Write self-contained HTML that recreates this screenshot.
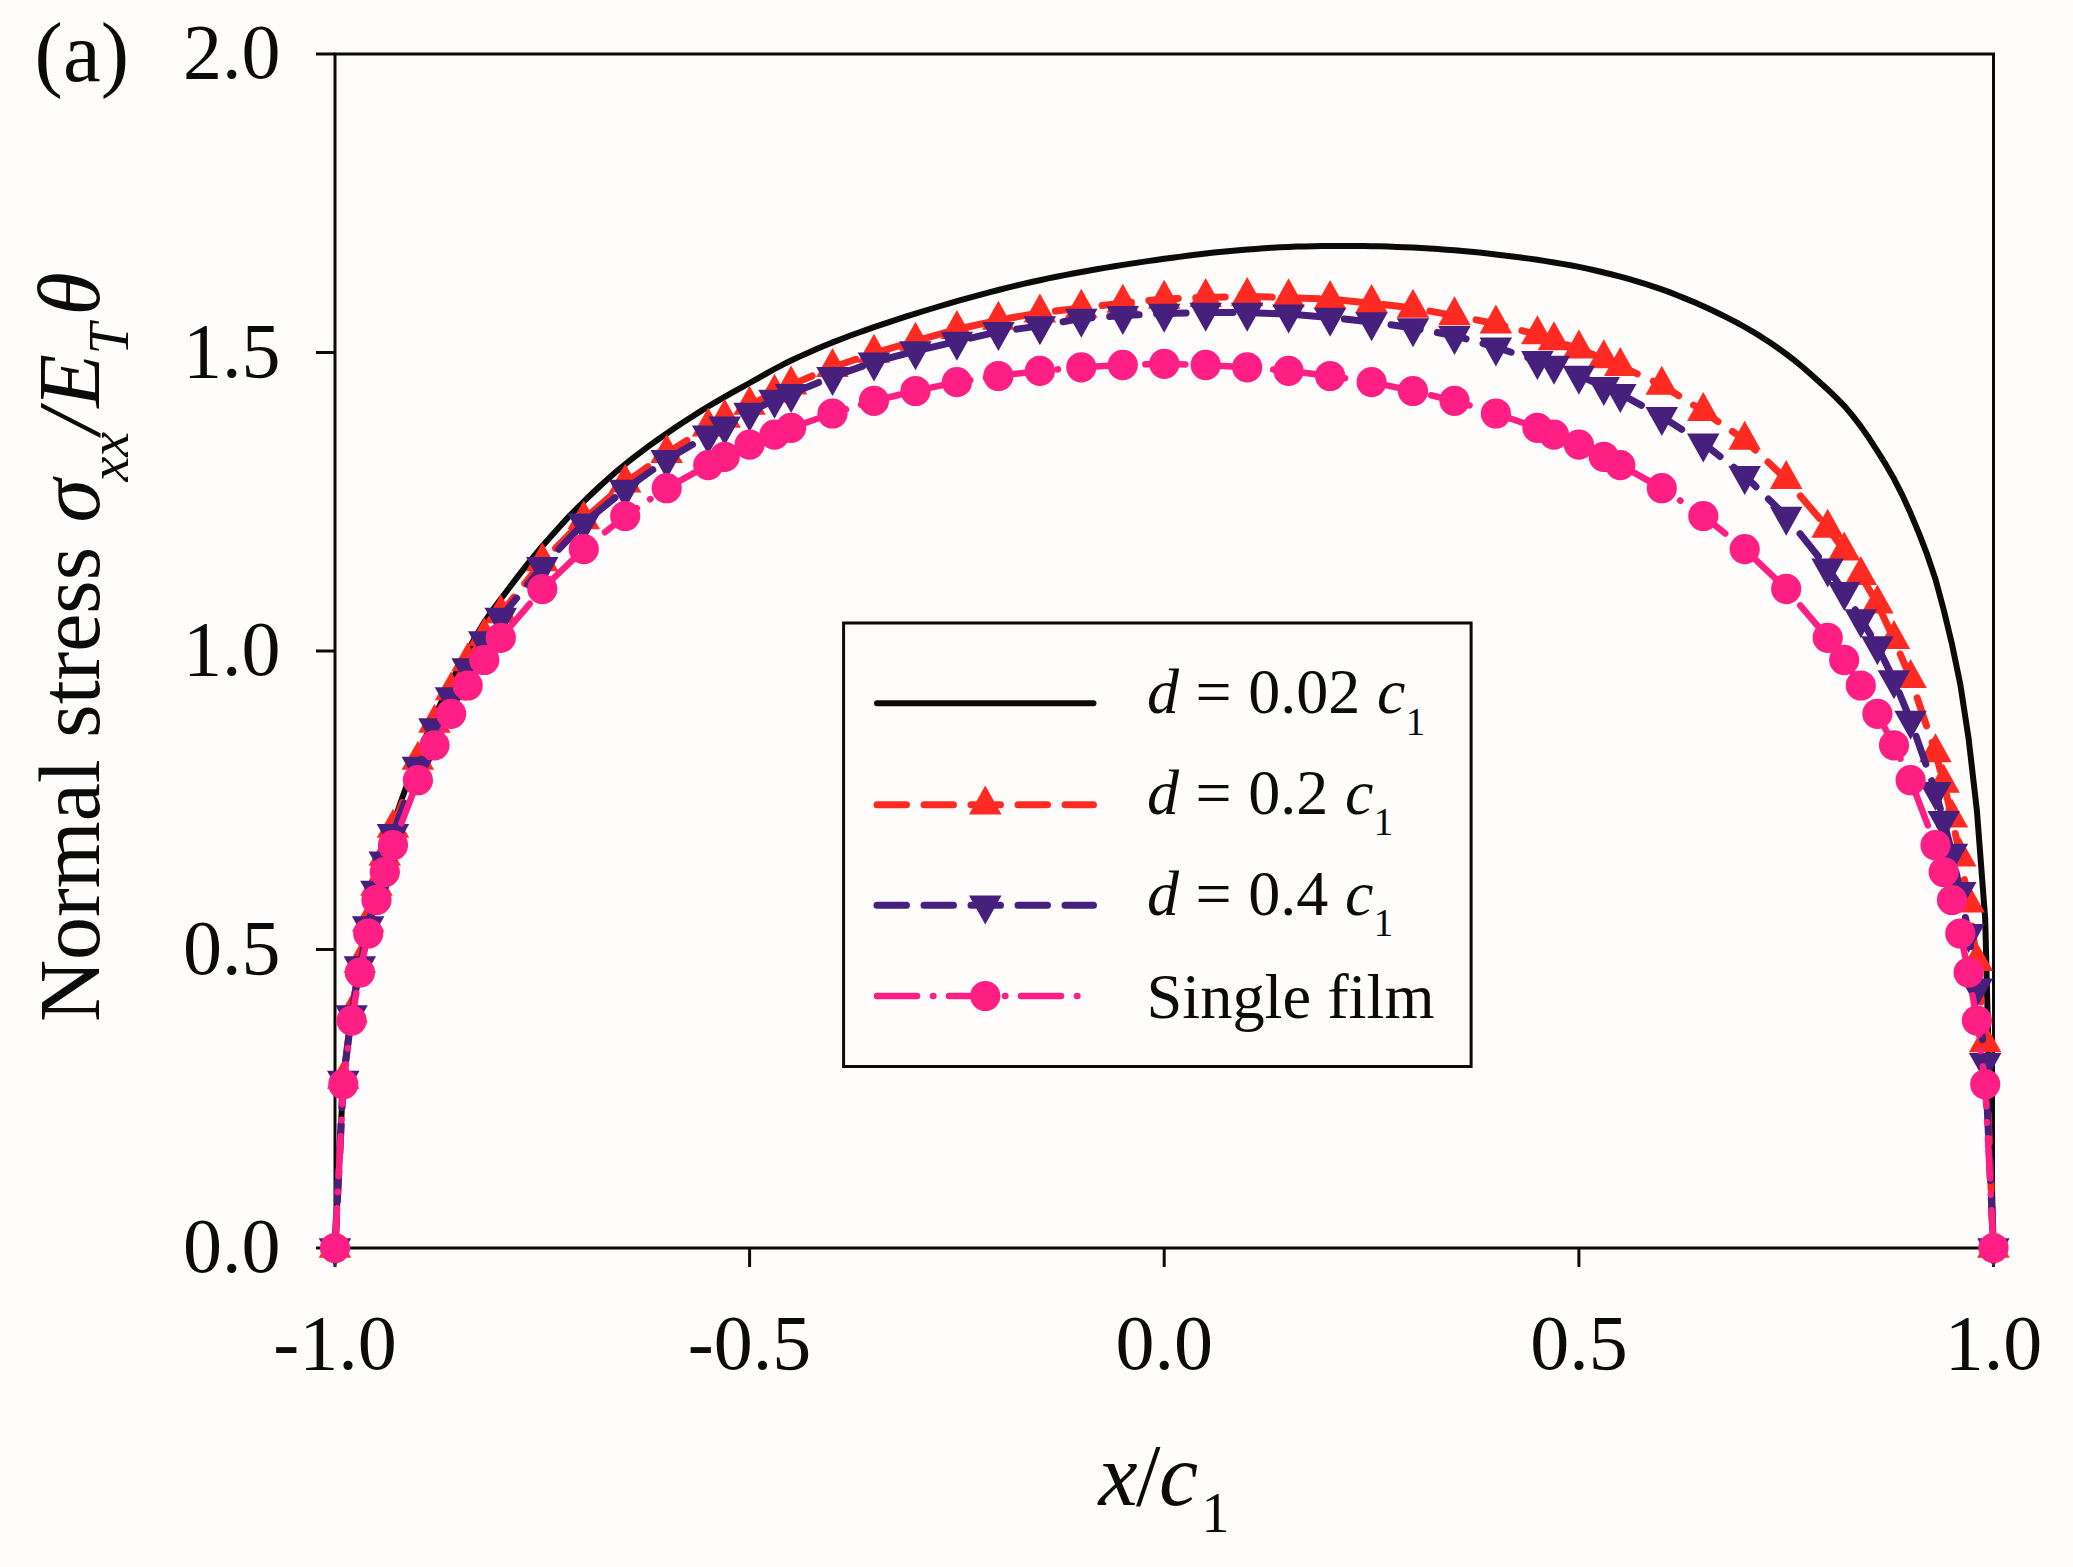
<!DOCTYPE html>
<html lang="en"><head><meta charset="utf-8"><title>Normal stress distribution (a)</title>
<style>html,body{margin:0;padding:0;background:#fefdfb}body{width:2073px;height:1567px;overflow:hidden}svg{display:block}text{font-family:"Liberation Serif",serif;fill:#0b0b0b}.i{font-style:italic}</style></head><body>
<svg width="2073" height="1567" viewBox="0 0 2073 1567">
<rect width="2073" height="1567" fill="#fefdfb"/>
<g stroke="#0b0b0b" stroke-width="3" fill="none" stroke-linecap="butt">
<rect x="335" y="54" width="1658.5" height="1194"/>
<path d="M316 1248H335M316 949.5H335M316 651H335M316 352.5H335M316 54H335M335 1248V1267M749.6 1248V1267M1164.2 1248V1267M1578.9 1248V1267M1993.5 1248V1267"/>
</g>
<polyline points="335,1248 343.3,1078 351.6,1012 359.9,961 368.2,920 376.5,884 384.8,853 393,825 401.3,800.4 409.6,777.5 417.9,756 426.2,735.9 434.5,717 442.8,699 451.1,682 459.4,666.1 467.7,651 476,636 484.3,622 492.6,610.1 500.8,599 509.1,588 517.4,577.1 525.7,566.4 534,556.1 542.3,546.2 550.6,536.7 558.9,527.4 567.2,518.4 575.5,509.8 583.8,501.5 592.1,493.5 600.4,485.7 608.7,478.3 616.9,471.1 625.2,464.2 633.5,457.6 641.8,451.3 650.1,445.2 658.4,439.3 666.7,433.5 675,427.8 683.3,422.3 691.6,416.9 699.9,411.6 708.2,406.5 716.5,401.6 724.7,396.8 733,392.1 741.3,387.6 749.6,383 757.9,378.3 766.2,373.6 774.5,369 782.8,364.6 791.1,360.5 799.4,356.6 807.7,352.9 816,349.3 824.3,345.8 832.5,342.4 840.8,339.2 849.1,336 857.4,333 865.7,330.1 874,327.2 882.3,324.4 890.6,321.6 898.9,318.9 907.2,316.2 915.5,313.6 923.8,311 932.1,308.5 940.4,306 948.6,303.6 956.9,301.2 965.2,298.9 973.5,296.6 981.8,294.3 990.1,292.1 998.4,290 1006.7,287.9 1015,285.9 1023.3,283.9 1031.6,282 1039.9,280.2 1048.2,278.4 1056.4,276.8 1064.7,275.1 1073,273.5 1081.3,272 1089.6,270.5 1097.9,269 1106.2,267.6 1114.5,266.2 1122.8,264.9 1131.1,263.6 1139.4,262.4 1147.7,261.1 1156,260 1164.2,258.8 1172.5,257.7 1180.8,256.6 1189.1,255.5 1197.4,254.5 1205.7,253.5 1214,252.6 1222.3,251.7 1230.6,250.9 1238.9,250.2 1247.2,249.5 1255.5,248.9 1263.8,248.3 1272.1,247.7 1280.3,247.2 1288.6,246.9 1296.9,246.6 1305.2,246.4 1313.5,246.2 1321.8,246.1 1330.1,246 1338.4,246 1346.7,246 1355,246.1 1363.3,246.1 1371.6,246.2 1379.9,246.3 1388.1,246.6 1396.4,246.9 1404.7,247.2 1413,247.6 1421.3,248 1429.6,248.5 1437.9,249.1 1446.2,249.7 1454.5,250.3 1462.8,251 1471.1,251.8 1479.4,252.6 1487.7,253.5 1495.9,254.4 1504.2,255.4 1512.5,256.4 1520.8,257.5 1529.1,258.6 1537.4,259.8 1545.7,261.1 1554,262.5 1562.3,263.9 1570.6,265.3 1578.9,266.9 1587.2,268.6 1595.5,270.5 1603.8,272.5 1612,274.5 1620.3,276.6 1628.6,278.9 1636.9,281.3 1645.2,283.9 1653.5,286.6 1661.8,289.4 1670.1,292.4 1678.4,295.7 1686.7,299.1 1695,302.6 1703.3,306.3 1711.6,310.1 1719.8,314 1728.1,318.1 1736.4,322.4 1744.7,327 1753,331.8 1761.3,336.9 1769.6,342.3 1777.9,348 1786.2,354 1794.5,360.4 1802.8,367.2 1811.1,374.4 1819.4,381.9 1827.7,389.5 1835.9,397.3 1844.2,405.8 1852.5,415.6 1860.8,426.4 1869.1,438.3 1877.4,451.1 1885.7,464.4 1894,478.8 1902.3,495.1 1910.6,513.3 1918.9,533.1 1927.2,554.7 1935.5,579.2 1943.7,609.7 1952,644.3 1960.3,684.3 1968.6,738.5 1976.9,810.6 1985.2,919 1993.5,1248" fill="none" stroke="#0b0b0b" stroke-width="6" stroke-linejoin="round" stroke-linecap="round"/>
<g fill="#ff2a22" stroke="none">
<polyline points="335,1248 343.3,1079 351.6,1013 359.9,963 368.2,922 376.5,886 384.8,856 393,828 417.9,760 434.5,723 451.1,690.5 467.7,661.5 484.3,636.5 500.8,613.6 542.3,561.5 583.8,519.6 625.2,482.9 666.7,453.3 708.2,426.7 724.7,418 749.6,405 774.5,393 791.1,384.9 832.5,367.3 874,353.1 915.5,341 956.9,329.4 998.4,320.1 1039.9,312.8 1081.3,308.1 1122.8,303.1 1164.2,299 1205.7,297.4 1247.2,296.4 1288.6,297.6 1330.1,299.2 1371.6,303.2 1413,308.1 1454.5,315.6 1495.9,323.7 1537.4,334.6 1554,340.6 1578.9,348.9 1603.8,358.6 1620.3,366.2 1661.8,385 1703.3,411.3 1744.7,440 1786.2,479.3 1827.7,528 1844.2,550.7 1860.8,575.2 1877.4,603.8 1894,639.3 1910.6,678.3 1935.5,752.5 1943.7,783.1 1952,817.8 1960.3,856.8 1968.6,902.8 1976.9,961.4 1985.2,1042.5 1993.5,1248" fill="none" stroke="#ff2a22" stroke-width="7" stroke-linecap="round" stroke-linejoin="round" stroke-dasharray="29.5 17.5"/>
<path d="M335 1228.7l16.2 29h-32.5zM343.3 1059.7l16.2 29h-32.5zM351.6 993.7l16.2 29h-32.5zM359.9 943.7l16.2 29h-32.5zM368.2 902.7l16.2 29h-32.5zM376.5 866.7l16.2 29h-32.5zM384.8 836.7l16.2 29h-32.5zM393 808.7l16.2 29h-32.5zM417.9 740.7l16.2 29h-32.5zM434.5 703.7l16.2 29h-32.5zM451.1 671.2l16.2 29h-32.5zM467.7 642.2l16.2 29h-32.5zM484.3 617.2l16.2 29h-32.5zM500.8 594.3l16.2 29h-32.5zM542.3 542.2l16.2 29h-32.5zM583.8 500.3l16.2 29h-32.5zM625.2 463.6l16.2 29h-32.5zM666.7 434l16.2 29h-32.5zM708.2 407.4l16.2 29h-32.5zM724.7 398.7l16.2 29h-32.5zM749.6 385.7l16.2 29h-32.5zM774.5 373.7l16.2 29h-32.5zM791.1 365.6l16.2 29h-32.5zM832.5 348l16.2 29h-32.5zM874 333.8l16.2 29h-32.5zM915.5 321.7l16.2 29h-32.5zM956.9 310.1l16.2 29h-32.5zM998.4 300.8l16.2 29h-32.5zM1039.9 293.5l16.2 29h-32.5zM1081.3 288.8l16.2 29h-32.5zM1122.8 283.8l16.2 29h-32.5zM1164.2 279.7l16.2 29h-32.5zM1205.7 278.1l16.2 29h-32.5zM1247.2 277.1l16.2 29h-32.5zM1288.6 278.3l16.2 29h-32.5zM1330.1 279.9l16.2 29h-32.5zM1371.6 283.9l16.2 29h-32.5zM1413 288.8l16.2 29h-32.5zM1454.5 296.3l16.2 29h-32.5zM1495.9 304.4l16.2 29h-32.5zM1537.4 315.3l16.2 29h-32.5zM1554 321.3l16.2 29h-32.5zM1578.9 329.6l16.2 29h-32.5zM1603.8 339.3l16.2 29h-32.5zM1620.3 346.9l16.2 29h-32.5zM1661.8 365.7l16.2 29h-32.5zM1703.3 392l16.2 29h-32.5zM1744.7 420.7l16.2 29h-32.5zM1786.2 460l16.2 29h-32.5zM1827.7 508.7l16.2 29h-32.5zM1844.2 531.4l16.2 29h-32.5zM1860.8 555.9l16.2 29h-32.5zM1877.4 584.5l16.2 29h-32.5zM1894 620l16.2 29h-32.5zM1910.6 659l16.2 29h-32.5zM1935.5 733.2l16.2 29h-32.5zM1943.7 763.8l16.2 29h-32.5zM1952 798.5l16.2 29h-32.5zM1960.3 837.5l16.2 29h-32.5zM1968.6 883.5l16.2 29h-32.5zM1976.9 942.1l16.2 29h-32.5zM1985.2 1023.2l16.2 29h-32.5zM1993.5 1228.7l16.2 29h-32.5z"/>
</g>
<g fill="#47207e" stroke="none">
<polyline points="335,1248 343.3,1080.5 351.6,1015 359.9,966 368.2,926 376.5,890.5 384.8,861.2 393,833.7 417.9,766.4 434.5,728 451.1,697 467.7,668 484.3,641 500.8,617.5 542.3,566.6 583.8,523.1 625.2,489.4 666.7,459.8 708.2,435.3 724.7,426.1 749.6,412.5 774.5,399.5 791.1,393.7 832.5,376.7 874,362.1 915.5,351 956.9,341.4 998.4,331.7 1039.9,325.9 1081.3,318.4 1122.8,315.6 1164.2,313.5 1205.7,312.5 1247.2,312.5 1288.6,314.1 1330.1,317.5 1371.6,321.9 1413,328 1454.5,335.7 1495.9,347.2 1537.4,360.8 1554,365.5 1578.9,375.5 1603.8,386.6 1620.3,393.7 1661.8,416.6 1703.3,443.3 1744.7,475.6 1786.2,516.4 1827.7,568.2 1844.2,591.7 1860.8,618.9 1877.4,646 1894,680 1910.6,720.5 1935.5,791.8 1943.7,820.6 1952,853.4 1960.3,891.7 1968.6,933.8 1976.9,988.1 1985.2,1062.7 1993.5,1248" fill="none" stroke="#47207e" stroke-width="7" stroke-linecap="round" stroke-linejoin="round" stroke-dasharray="29.5 17.5"/>
<path d="M335 1267.3l16.2 -29h-32.5zM343.3 1099.8l16.2 -29h-32.5zM351.6 1034.3l16.2 -29h-32.5zM359.9 985.3l16.2 -29h-32.5zM368.2 945.3l16.2 -29h-32.5zM376.5 909.8l16.2 -29h-32.5zM384.8 880.5l16.2 -29h-32.5zM393 853l16.2 -29h-32.5zM417.9 785.7l16.2 -29h-32.5zM434.5 747.3l16.2 -29h-32.5zM451.1 716.3l16.2 -29h-32.5zM467.7 687.3l16.2 -29h-32.5zM484.3 660.3l16.2 -29h-32.5zM500.8 636.8l16.2 -29h-32.5zM542.3 585.9l16.2 -29h-32.5zM583.8 542.4l16.2 -29h-32.5zM625.2 508.7l16.2 -29h-32.5zM666.7 479.1l16.2 -29h-32.5zM708.2 454.6l16.2 -29h-32.5zM724.7 445.4l16.2 -29h-32.5zM749.6 431.8l16.2 -29h-32.5zM774.5 418.8l16.2 -29h-32.5zM791.1 413l16.2 -29h-32.5zM832.5 396l16.2 -29h-32.5zM874 381.4l16.2 -29h-32.5zM915.5 370.3l16.2 -29h-32.5zM956.9 360.7l16.2 -29h-32.5zM998.4 351l16.2 -29h-32.5zM1039.9 345.2l16.2 -29h-32.5zM1081.3 337.7l16.2 -29h-32.5zM1122.8 334.9l16.2 -29h-32.5zM1164.2 332.8l16.2 -29h-32.5zM1205.7 331.8l16.2 -29h-32.5zM1247.2 331.8l16.2 -29h-32.5zM1288.6 333.4l16.2 -29h-32.5zM1330.1 336.8l16.2 -29h-32.5zM1371.6 341.2l16.2 -29h-32.5zM1413 347.3l16.2 -29h-32.5zM1454.5 355l16.2 -29h-32.5zM1495.9 366.5l16.2 -29h-32.5zM1537.4 380.1l16.2 -29h-32.5zM1554 384.8l16.2 -29h-32.5zM1578.9 394.8l16.2 -29h-32.5zM1603.8 405.9l16.2 -29h-32.5zM1620.3 413l16.2 -29h-32.5zM1661.8 435.9l16.2 -29h-32.5zM1703.3 462.6l16.2 -29h-32.5zM1744.7 494.9l16.2 -29h-32.5zM1786.2 535.7l16.2 -29h-32.5zM1827.7 587.5l16.2 -29h-32.5zM1844.2 611l16.2 -29h-32.5zM1860.8 638.2l16.2 -29h-32.5zM1877.4 665.3l16.2 -29h-32.5zM1894 699.3l16.2 -29h-32.5zM1910.6 739.8l16.2 -29h-32.5zM1935.5 811.1l16.2 -29h-32.5zM1943.7 839.9l16.2 -29h-32.5zM1952 872.7l16.2 -29h-32.5zM1960.3 911l16.2 -29h-32.5zM1968.6 953.1l16.2 -29h-32.5zM1976.9 1007.4l16.2 -29h-32.5zM1985.2 1082l16.2 -29h-32.5zM1993.5 1267.3l16.2 -29h-32.5z"/>
</g>
<g fill="#ff1f84" stroke="none">
<polyline points="335,1248 343.3,1084.3 351.6,1020.5 359.9,972.5 368.2,933.5 376.5,900 384.8,872 393,845.2 417.9,780.2 434.5,745.3 451.1,713.8 467.7,685.5 484.3,660 500.8,637.8 542.3,589 583.8,549.1 625.2,516 666.7,488.2 708.2,465.1 724.7,456.8 749.6,444.6 774.5,434.6 791.1,427.8 832.5,413.5 874,400.8 915.5,391 956.9,382.1 998.4,376 1039.9,370.9 1081.3,367.3 1122.8,365 1164.2,363.8 1205.7,365 1247.2,367.3 1288.6,370.9 1330.1,376 1371.6,382.1 1413,391 1454.5,400.8 1495.9,413.5 1537.4,427.8 1554,434.6 1578.9,444.6 1603.8,456.8 1620.3,465.1 1661.8,488.2 1703.3,516 1744.7,549.1 1786.2,589 1827.7,637.8 1844.2,660 1860.8,685.5 1877.4,713.8 1894,745.3 1910.6,780.2 1935.5,845.2 1943.7,872 1952,900 1960.3,933.5 1968.6,972.5 1976.9,1020.5 1985.2,1084.3 1993.5,1248" fill="none" stroke="#ff1f84" stroke-width="6.5" stroke-linecap="round" stroke-linejoin="round" stroke-dasharray="40 16 0.4 15.6"/>
<path d="M319.9 1248a15.1 15.1 0 1 0 30.2 0a15.1 15.1 0 1 0 -30.2 0zM328.2 1084.3a15.1 15.1 0 1 0 30.2 0a15.1 15.1 0 1 0 -30.2 0zM336.5 1020.5a15.1 15.1 0 1 0 30.2 0a15.1 15.1 0 1 0 -30.2 0zM344.8 972.5a15.1 15.1 0 1 0 30.2 0a15.1 15.1 0 1 0 -30.2 0zM353.1 933.5a15.1 15.1 0 1 0 30.2 0a15.1 15.1 0 1 0 -30.2 0zM361.4 900a15.1 15.1 0 1 0 30.2 0a15.1 15.1 0 1 0 -30.2 0zM369.7 872a15.1 15.1 0 1 0 30.2 0a15.1 15.1 0 1 0 -30.2 0zM377.9 845.2a15.1 15.1 0 1 0 30.2 0a15.1 15.1 0 1 0 -30.2 0zM402.8 780.2a15.1 15.1 0 1 0 30.2 0a15.1 15.1 0 1 0 -30.2 0zM419.4 745.3a15.1 15.1 0 1 0 30.2 0a15.1 15.1 0 1 0 -30.2 0zM436 713.8a15.1 15.1 0 1 0 30.2 0a15.1 15.1 0 1 0 -30.2 0zM452.6 685.5a15.1 15.1 0 1 0 30.2 0a15.1 15.1 0 1 0 -30.2 0zM469.2 660a15.1 15.1 0 1 0 30.2 0a15.1 15.1 0 1 0 -30.2 0zM485.7 637.8a15.1 15.1 0 1 0 30.2 0a15.1 15.1 0 1 0 -30.2 0zM527.2 589a15.1 15.1 0 1 0 30.2 0a15.1 15.1 0 1 0 -30.2 0zM568.7 549.1a15.1 15.1 0 1 0 30.2 0a15.1 15.1 0 1 0 -30.2 0zM610.1 516a15.1 15.1 0 1 0 30.2 0a15.1 15.1 0 1 0 -30.2 0zM651.6 488.2a15.1 15.1 0 1 0 30.2 0a15.1 15.1 0 1 0 -30.2 0zM693.1 465.1a15.1 15.1 0 1 0 30.2 0a15.1 15.1 0 1 0 -30.2 0zM709.6 456.8a15.1 15.1 0 1 0 30.2 0a15.1 15.1 0 1 0 -30.2 0zM734.5 444.6a15.1 15.1 0 1 0 30.2 0a15.1 15.1 0 1 0 -30.2 0zM759.4 434.6a15.1 15.1 0 1 0 30.2 0a15.1 15.1 0 1 0 -30.2 0zM776 427.8a15.1 15.1 0 1 0 30.2 0a15.1 15.1 0 1 0 -30.2 0zM817.4 413.5a15.1 15.1 0 1 0 30.2 0a15.1 15.1 0 1 0 -30.2 0zM858.9 400.8a15.1 15.1 0 1 0 30.2 0a15.1 15.1 0 1 0 -30.2 0zM900.4 391a15.1 15.1 0 1 0 30.2 0a15.1 15.1 0 1 0 -30.2 0zM941.8 382.1a15.1 15.1 0 1 0 30.2 0a15.1 15.1 0 1 0 -30.2 0zM983.3 376a15.1 15.1 0 1 0 30.2 0a15.1 15.1 0 1 0 -30.2 0zM1024.8 370.9a15.1 15.1 0 1 0 30.2 0a15.1 15.1 0 1 0 -30.2 0zM1066.2 367.3a15.1 15.1 0 1 0 30.2 0a15.1 15.1 0 1 0 -30.2 0zM1107.7 365a15.1 15.1 0 1 0 30.2 0a15.1 15.1 0 1 0 -30.2 0zM1149.2 363.8a15.1 15.1 0 1 0 30.2 0a15.1 15.1 0 1 0 -30.2 0zM1190.6 365a15.1 15.1 0 1 0 30.2 0a15.1 15.1 0 1 0 -30.2 0zM1232.1 367.3a15.1 15.1 0 1 0 30.2 0a15.1 15.1 0 1 0 -30.2 0zM1273.5 370.9a15.1 15.1 0 1 0 30.2 0a15.1 15.1 0 1 0 -30.2 0zM1315 376a15.1 15.1 0 1 0 30.2 0a15.1 15.1 0 1 0 -30.2 0zM1356.5 382.1a15.1 15.1 0 1 0 30.2 0a15.1 15.1 0 1 0 -30.2 0zM1397.9 391a15.1 15.1 0 1 0 30.2 0a15.1 15.1 0 1 0 -30.2 0zM1439.4 400.8a15.1 15.1 0 1 0 30.2 0a15.1 15.1 0 1 0 -30.2 0zM1480.8 413.5a15.1 15.1 0 1 0 30.2 0a15.1 15.1 0 1 0 -30.2 0zM1522.3 427.8a15.1 15.1 0 1 0 30.2 0a15.1 15.1 0 1 0 -30.2 0zM1538.9 434.6a15.1 15.1 0 1 0 30.2 0a15.1 15.1 0 1 0 -30.2 0zM1563.8 444.6a15.1 15.1 0 1 0 30.2 0a15.1 15.1 0 1 0 -30.2 0zM1588.7 456.8a15.1 15.1 0 1 0 30.2 0a15.1 15.1 0 1 0 -30.2 0zM1605.2 465.1a15.1 15.1 0 1 0 30.2 0a15.1 15.1 0 1 0 -30.2 0zM1646.7 488.2a15.1 15.1 0 1 0 30.2 0a15.1 15.1 0 1 0 -30.2 0zM1688.2 516a15.1 15.1 0 1 0 30.2 0a15.1 15.1 0 1 0 -30.2 0zM1729.6 549.1a15.1 15.1 0 1 0 30.2 0a15.1 15.1 0 1 0 -30.2 0zM1771.1 589a15.1 15.1 0 1 0 30.2 0a15.1 15.1 0 1 0 -30.2 0zM1812.6 637.8a15.1 15.1 0 1 0 30.2 0a15.1 15.1 0 1 0 -30.2 0zM1829.1 660a15.1 15.1 0 1 0 30.2 0a15.1 15.1 0 1 0 -30.2 0zM1845.7 685.5a15.1 15.1 0 1 0 30.2 0a15.1 15.1 0 1 0 -30.2 0zM1862.3 713.8a15.1 15.1 0 1 0 30.2 0a15.1 15.1 0 1 0 -30.2 0zM1878.9 745.3a15.1 15.1 0 1 0 30.2 0a15.1 15.1 0 1 0 -30.2 0zM1895.5 780.2a15.1 15.1 0 1 0 30.2 0a15.1 15.1 0 1 0 -30.2 0zM1920.4 845.2a15.1 15.1 0 1 0 30.2 0a15.1 15.1 0 1 0 -30.2 0zM1928.6 872a15.1 15.1 0 1 0 30.2 0a15.1 15.1 0 1 0 -30.2 0zM1936.9 900a15.1 15.1 0 1 0 30.2 0a15.1 15.1 0 1 0 -30.2 0zM1945.2 933.5a15.1 15.1 0 1 0 30.2 0a15.1 15.1 0 1 0 -30.2 0zM1953.5 972.5a15.1 15.1 0 1 0 30.2 0a15.1 15.1 0 1 0 -30.2 0zM1961.8 1020.5a15.1 15.1 0 1 0 30.2 0a15.1 15.1 0 1 0 -30.2 0zM1970.1 1084.3a15.1 15.1 0 1 0 30.2 0a15.1 15.1 0 1 0 -30.2 0zM1978.4 1248a15.1 15.1 0 1 0 30.2 0a15.1 15.1 0 1 0 -30.2 0z"/>
</g>
<rect x="843.6" y="623" width="627.5" height="443.5" fill="#fefdfb" stroke="#0b0b0b" stroke-width="3"/>
<path d="M877 703.3H1093.5" stroke="#0b0b0b" stroke-width="6" stroke-linecap="round" fill="none"/>
<path d="M877 804.7H1093.5" stroke="#ff2a22" stroke-width="7" stroke-linecap="round" fill="none" stroke-dasharray="29.5 17.5"/>
<path d="M985.3 785.4l16.2 29h-32.5z" fill="#ff2a22"/>
<path d="M877 905.3H1093.5" stroke="#47207e" stroke-width="7" stroke-linecap="round" fill="none" stroke-dasharray="29.5 17.5"/>
<path d="M985.3 924.6l16.2 -29h-32.5z" fill="#47207e"/>
<path d="M877 996H1082" stroke="#ff1f84" stroke-width="6.5" stroke-linecap="round" fill="none" stroke-dasharray="40 16 0.4 15.6"/>
<path d="M970.2 996a15.1 15.1 0 1 0 30.2 0a15.1 15.1 0 1 0 -30.2 0z" fill="#ff1f84"/>
<text x="1147" y="713.2" font-size="64" word-spacing="0.6" xml:space="preserve"><tspan class="i">d</tspan> = 0.02 <tspan class="i">c</tspan><tspan font-size="39" dx="0.5" dy="21.5">1</tspan></text>
<text x="1147" y="813.9" font-size="64" word-spacing="0.6" xml:space="preserve"><tspan class="i">d</tspan> = 0.2 <tspan class="i">c</tspan><tspan font-size="39" dx="0.5" dy="21.5">1</tspan></text>
<text x="1147" y="914.9" font-size="64" word-spacing="0.6" xml:space="preserve"><tspan class="i">d</tspan> = 0.4 <tspan class="i">c</tspan><tspan font-size="39" dx="0.5" dy="21.5">1</tspan></text>
<text x="1146.5" y="1018.2" font-size="64.4">Single film</text>
<text x="280.5" y="1272.3" font-size="78" text-anchor="end">0.0</text>
<text x="280.5" y="973.8" font-size="78" text-anchor="end">0.5</text>
<text x="280.5" y="675.3" font-size="78" text-anchor="end">1.0</text>
<text x="280.5" y="376.8" font-size="78" text-anchor="end">1.5</text>
<text x="280.5" y="78.3" font-size="78" text-anchor="end">2.0</text>
<text x="335" y="1369.3" font-size="78" text-anchor="middle">-1.0</text>
<text x="749.6" y="1369.3" font-size="78" text-anchor="middle">-0.5</text>
<text x="1164.2" y="1369.3" font-size="78" text-anchor="middle">0.0</text>
<text x="1578.9" y="1369.3" font-size="78" text-anchor="middle">0.5</text>
<text x="1993.5" y="1369.3" font-size="78" text-anchor="middle">1.0</text>
<text x="1098.5" y="1505" font-size="88" letter-spacing="-1.5"><tspan class="i">x</tspan>/<tspan class="i">c</tspan><tspan font-size="56" dx="5" dy="27">1</tspan></text>
<text transform="translate(98.5 1022) rotate(-90)" font-size="88" xml:space="preserve"><tspan x="0" font-size="86">Normal stress </tspan><tspan x="499.5" class="i">σ</tspan><tspan x="540.5" y="29.5" class="i" font-size="56">xx</tspan><tspan x="588" y="0" class="i">/</tspan><tspan x="614.3" class="i">E</tspan><tspan x="667.5" y="29.5" class="i" font-size="56" letter-spacing="0">T</tspan><tspan x="706.5" y="0" class="i">θ</tspan></text>
<text x="34.6" y="81" font-size="85" letter-spacing="0.1">(a)</text>
</svg></body></html>
